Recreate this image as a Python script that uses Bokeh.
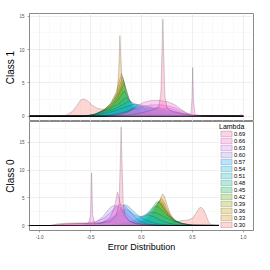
import math
from bokeh.plotting import figure
from bokeh.layouts import column
from bokeh.models import Range1d, FixedTicker, PrintfTickFormatter, Legend, LegendItem
from bokeh.embed import file_html
from bokeh.resources import INLINE

# ---------------- data ----------------
lambdas = ["0.30", "0.33", "0.36", "0.39", "0.42", "0.45", "0.48",
           "0.51", "0.54", "0.57", "0.60", "0.63", "0.66", "0.69"]
panel_labels = ["Class 1", "Class 0"]
x_ticks = [-1.0, -0.5, 0.0, 0.5, 1.0]
y_ticks = [0, 5, 10, 15]

# Class 1 densities (x, density)
c1_030 = [(-1.1,0),(-0.8,0),(-0.74,0.15),(-0.68,0.7),(-0.63,1.7),(-0.6,2.4),(-0.57,2.6),(-0.53,2.3),(-0.48,1.6),(-0.43,1.15),(-0.36,1.0),(-0.28,0.95),(-0.2,0.75),(-0.12,0.5),(-0.04,0.3),(0.06,0.15),(0.2,0.1),(0.4,0.05),(0.6,0.0),(1.0,0)]
c1_033 = [(-1.1,0),(-0.55,0),(-0.42,0.2),(-0.33,0.8),(-0.27,1.8),(-0.24,3.5),(-0.225,6.5),(-0.212,12.1),(-0.2,8.0),(-0.19,4.5),(-0.17,2.4),(-0.14,1.2),(-0.1,0.5),(-0.04,0.2),(0.05,0.05),(0.3,0),(1.0,0)]
c1_036 = [(-1.1,0),(-0.55,0),(-0.44,0.3),(-0.36,1.0),(-0.3,2.0),(-0.25,3.6),(-0.215,5.4),(-0.195,6.4),(-0.18,5.6),(-0.16,3.6),(-0.13,1.9),(-0.09,0.9),(-0.03,0.4),(0.08,0.15),(0.3,0.02),(1.0,0)]
c1_039 = [(-1.1,0),(-0.55,0),(-0.45,0.3),(-0.37,0.9),(-0.3,1.9),(-0.24,3.5),(-0.2,5.2),(-0.185,5.9),(-0.17,5.2),(-0.15,3.4),(-0.12,1.8),(-0.08,0.9),(-0.02,0.4),(0.1,0.15),(0.3,0.03),(1.0,0)]
c1_042 = [(-1.1,0),(-0.55,0),(-0.46,0.3),(-0.38,0.9),(-0.3,1.8),(-0.23,3.4),(-0.19,4.8),(-0.178,5.4),(-0.16,4.6),(-0.13,2.8),(-0.1,1.6),(-0.06,0.9),(0.0,0.5),(0.1,0.2),(0.3,0.05),(1.0,0)]
c1_045 = [(-1.1,0),(-0.55,0),(-0.46,0.3),(-0.38,0.8),(-0.3,1.6),(-0.23,3.0),(-0.19,4.3),(-0.172,4.9),(-0.15,4.0),(-0.12,2.6),(-0.09,1.7),(-0.05,1.1),(0.02,0.6),(0.12,0.3),(0.3,0.08),(0.5,0),(1.0,0)]
c1_048 = [(-1.1,0),(-0.55,0),(-0.46,0.25),(-0.38,0.7),(-0.3,1.4),(-0.23,2.5),(-0.19,3.4),(-0.168,3.8),(-0.14,3.1),(-0.11,2.1),(-0.07,1.5),(0.0,1.0),(0.1,0.6),(0.2,0.35),(0.35,0.12),(0.5,0.02),(1.0,0)]
c1_051 = [(-1.1,0),(-0.6,0),(-0.48,0.2),(-0.4,0.6),(-0.3,1.2),(-0.22,1.9),(-0.17,2.6),(-0.15,2.8),(-0.12,2.4),(-0.08,1.8),(0.0,1.3),(0.1,0.95),(0.2,0.7),(0.3,0.45),(0.4,0.2),(0.5,0.05),(1.0,0)]
c1_054 = [(-1.1,0),(-0.6,0),(-0.48,0.15),(-0.38,0.5),(-0.28,1.0),(-0.2,1.6),(-0.14,2.1),(-0.11,2.2),(-0.07,1.9),(0.0,1.5),(0.1,1.15),(0.2,0.9),(0.3,0.6),(0.4,0.3),(0.5,0.08),(1.0,0)]
c1_057 = [(-1.1,0),(-0.6,0),(-0.46,0.15),(-0.36,0.4),(-0.26,0.8),(-0.17,1.3),(-0.1,1.7),(-0.06,1.8),(0.0,1.65),(0.1,1.35),(0.2,1.1),(0.3,0.8),(0.4,0.4),(0.48,0.12),(0.6,0.02),(1.0,0)]
c1_060 = [(-1.1,0),(-0.45,0),(-0.3,0.2),(-0.2,0.5),(-0.13,0.8),(-0.08,1.15),(-0.04,0.95),(0.0,1.3),(0.04,1.0),(0.08,1.35),(0.12,1.05),(0.16,1.4),(0.2,1.1),(0.25,1.3),(0.3,1.05),(0.35,0.8),(0.41,0.45),(0.48,0.15),(0.6,0.02),(1.0,0)]
c1_063 = [(-1.1,0),(-0.4,0),(-0.25,0.2),(-0.15,0.6),(-0.07,1.1),(0.02,1.5),(0.1,1.7),(0.2,1.7),(0.28,1.5),(0.35,1.15),(0.41,0.7),(0.47,0.3),(0.55,0.08),(0.65,0),(1.0,0)]
c1_066 = [(-1.1,0),(-0.35,0),(-0.2,0.2),(-0.12,0.7),(-0.05,1.5),(0.02,2.1),(0.1,2.35),(0.18,2.35),(0.26,2.15),(0.33,1.7),(0.39,1.0),(0.44,0.5),(0.485,0.3),(0.495,2.5),(0.503,7.3),(0.511,2.5),(0.525,0.25),(0.6,0.08),(0.96,0.03),(0.985,0.25),(1.0,0)]
c1_069 = [(-1.1,0),(-0.25,0),(-0.1,0.2),(0.0,0.5),(0.1,0.9),(0.17,1.3),(0.19,3.5),(0.202,10),(0.21,14.6),(0.218,9.5),(0.23,3.0),(0.25,1.2),(0.3,0.7),(0.4,0.35),(0.5,0.12),(0.6,0.02),(1.0,0)]

# Class 0 densities
c0_030 = [(-1.1,0),(-0.2,0),(0.0,0.05),(0.15,0.15),(0.25,0.3),(0.33,0.6),(0.39,0.9),(0.45,0.95),(0.5,1.3),(0.535,2.2),(0.565,3.1),(0.585,3.3),(0.61,2.9),(0.635,1.8),(0.66,0.6),(0.69,0.1),(0.75,0),(1.0,0)]
c0_033 = [(-1.1,0),(-0.2,0),(-0.05,0.15),(0.03,0.6),(0.09,1.4),(0.14,2.8),(0.18,4.6),(0.205,5.7),(0.225,5.3),(0.25,3.8),(0.28,2.2),(0.32,1.1),(0.38,0.4),(0.46,0.1),(0.6,0),(1.0,0)]
c0_036 = [(-1.1,0),(-0.2,0),(-0.05,0.2),(0.03,0.7),(0.09,1.6),(0.14,3.0),(0.175,4.4),(0.195,4.9),(0.22,4.3),(0.25,3.0),(0.29,1.7),(0.34,0.8),(0.41,0.25),(0.5,0.05),(1.0,0)]
c0_039 = [(-1.1,0),(-0.2,0),(-0.05,0.25),(0.03,0.8),(0.08,1.7),(0.13,3.1),(0.165,4.2),(0.185,4.5),(0.21,4.0),(0.24,2.9),(0.28,1.7),(0.33,0.8),(0.4,0.3),(0.5,0.06),(1.0,0)]
c0_042 = [(-1.1,0),(-0.2,0),(-0.05,0.3),(0.02,0.9),(0.07,1.8),(0.12,3.1),(0.155,4.0),(0.175,4.2),(0.2,3.8),(0.23,2.8),(0.27,1.8),(0.32,0.9),(0.4,0.3),(0.5,0.06),(1.0,0)]
c0_045 = [(-1.1,0),(-0.25,0),(-0.1,0.3),(0.0,1.0),(0.06,2.0),(0.11,3.3),(0.145,4.2),(0.16,4.4),(0.185,4.0),(0.22,3.0),(0.27,1.8),(0.33,0.9),(0.41,0.35),(0.5,0.08),(1.0,0)]
c0_048 = [(-1.1,0),(-0.3,0),(-0.12,0.35),(-0.03,1.0),(0.04,1.9),(0.1,3.0),(0.14,3.5),(0.17,3.3),(0.21,2.6),(0.26,1.7),(0.32,0.9),(0.4,0.35),(0.5,0.08),(1.0,0)]
c0_051 = [(-1.1,0),(-0.35,0),(-0.15,0.5),(-0.06,1.1),(0.0,1.6),(0.05,2.1),(0.1,2.4),(0.14,2.3),(0.19,1.9),(0.25,1.3),(0.32,0.7),(0.4,0.3),(0.5,0.08),(1.0,0)]
c0_054 = [(-1.1,0),(-0.6,0),(-0.45,0.2),(-0.33,0.8),(-0.25,1.8),(-0.19,2.8),(-0.16,3.0),(-0.12,2.6),(-0.07,1.9),(-0.02,1.6),(0.03,1.7),(0.07,1.9),(0.12,1.6),(0.18,1.0),(0.26,0.45),(0.35,0.15),(0.5,0.02),(1.0,0)]
c0_057 = [(-1.1,0),(-0.6,0),(-0.45,0.2),(-0.33,0.9),(-0.25,2.0),(-0.2,3.2),(-0.165,3.8),(-0.13,3.5),(-0.08,2.6),(-0.03,1.8),(0.02,1.2),(0.08,0.7),(0.15,0.35),(0.25,0.1),(0.4,0),(1.0,0)]
c0_060 = [(-1.1,0),(-0.7,0),(-0.55,0.15),(-0.45,0.6),(-0.38,1.6),(-0.33,2.8),(-0.29,3.5),(-0.25,3.6),(-0.21,3.2),(-0.16,2.3),(-0.1,1.2),(-0.04,0.5),(0.05,0.15),(0.2,0.02),(1.0,0)]
c0_063 = [(-1.1,0),(-0.9,0),(-0.8,0.2),(-0.65,0.35),(-0.55,0.45),(-0.45,0.7),(-0.37,1.3),(-0.3,2.4),(-0.25,3.4),(-0.21,3.8),(-0.17,3.6),(-0.12,2.7),(-0.07,1.6),(-0.02,0.8),(0.05,0.3),(0.15,0.08),(0.3,0),(1.0,0)]
c0_066 = [(-1.1,0),(-0.85,0),(-0.75,0.25),(-0.6,0.35),(-0.52,0.4),(-0.5,2.0),(-0.49,9.5),(-0.48,2.0),(-0.46,0.4),(-0.38,0.6),(-0.31,1.4),(-0.27,3.0),(-0.25,4.8),(-0.235,6.0),(-0.22,5.0),(-0.2,3.2),(-0.17,1.8),(-0.12,0.8),(-0.05,0.3),(0.05,0.08),(0.2,0),(1.0,0)]
c0_069 = [(-1.1,0),(-0.9,0),(-0.82,0.3),(-0.7,0.45),(-0.6,0.45),(-0.52,0.35),(-0.4,0.4),(-0.3,0.8),(-0.25,1.8),(-0.22,4.0),(-0.208,12.0),(-0.2,17.8),(-0.192,12.0),(-0.18,4.0),(-0.16,1.8),(-0.12,0.8),(-0.05,0.3),(0.05,0.1),(0.2,0),(1.0,0)]

class1 = [c1_030, c1_033, c1_036, c1_039, c1_042, c1_045, c1_048,
          c1_051, c1_054, c1_057, c1_060, c1_063, c1_066, c1_069]
class0 = [c0_030, c0_033, c0_036, c0_039, c0_042, c0_045, c0_048,
          c0_051, c0_054, c0_057, c0_060, c0_063, c0_066, c0_069]


# ---------------- colours (ggplot hue palette) ----------------
def hcl_hex(h, c=100.0, l=65.0):
    Xn, Yn, Zn = 95.047, 100.0, 108.883
    U = c * math.cos(math.radians(h))
    V = c * math.sin(math.radians(h))
    Y = Yn * ((l + 16) / 116) ** 3 if l > 8 else Yn * l / 903.3
    den = Xn + 15 * Yn + 3 * Zn
    un, vn = 4 * Xn / den, 9 * Yn / den
    u = U / (13 * l) + un
    v = V / (13 * l) + vn
    X = 9.0 * Y * u / (4 * v)
    Z = -X / 3 - 5 * Y + 3 * Y / v
    X, Y, Z = X / 100, Y / 100, Z / 100
    r = 3.240479 * X - 1.537150 * Y - 0.498535 * Z
    g = -0.969256 * X + 1.875992 * Y + 0.041556 * Z
    b = 0.055648 * X - 0.204043 * Y + 1.057311 * Z

    def gam(t):
        t = 12.92 * t if t <= 0.0031308 else 1.055 * t ** (1 / 2.4) - 0.055
        return int(round(max(0.0, min(1.0, t)) * 255))
    return "#%02x%02x%02x" % (gam(r), gam(g), gam(b))


n = len(lambdas)
colors = [hcl_hex(15 + 360.0 * i / n) for i in range(n)]

FONT = "Liberation Sans"
x_range = Range1d(-1.1, 1.1)


def style(p, ylabel):
    p.background_fill_color = "white"
    p.border_fill_color = "white"
    p.outline_line_color = "#8a8a8a"
    p.outline_line_width = 1
    p.yaxis.ticker = FixedTicker(ticks=y_ticks, minor_ticks=[2.5, 7.5, 12.5, 17.5])
    p.xaxis.ticker = FixedTicker(ticks=x_ticks, minor_ticks=[-0.75, -0.25, 0.25, 0.75])
    p.xaxis.formatter = PrintfTickFormatter(format="%.1f")
    for ax in p.xaxis + p.yaxis:
        ax.axis_line_color = None
        ax.major_tick_line_color = "#555555"
        ax.major_tick_line_width = 0.5
        ax.major_tick_out = 2
        ax.major_tick_in = 0
        ax.minor_tick_line_color = None
        ax.major_label_text_font = FONT
        ax.major_label_text_font_size = "4.5px"
        ax.major_label_text_color = "#4d4d4d"
        ax.major_label_standoff = 1
        ax.axis_label_text_font = FONT
        ax.axis_label_text_font_style = "normal"
        ax.axis_label_text_color = "black"
    p.yaxis.axis_label = ylabel
    p.yaxis.axis_label_text_font_size = "10px"
    p.yaxis.axis_label_standoff = 0
    for g in (p.xgrid, p.ygrid):
        g.grid_line_color = "#e6e6e6"
        g.grid_line_width = 0.6
        g.minor_grid_line_color = "#f2f2f2"
        g.minor_grid_line_width = 0.5


def draw(p, series):
    rs = []
    for pts, col in zip(series, colors):
        xs = [a for a, b in pts]
        ys = [b for a, b in pts]
        r = p.patch(xs, ys, fill_color=col, fill_alpha=0.3,
                    line_color="black", line_alpha=0.35, line_width=0.5)
        rs.append(r)
    return rs


p1 = figure(width=254, height=121, x_range=x_range, y_range=Range1d(-0.8, 15.4),
            output_backend="svg", toolbar_location=None, x_axis_location=None,
            min_border_left=29, min_border_right=1, min_border_top=13, min_border_bottom=0)
style(p1, panel_labels[0])
draw(p1, class1)

p2 = figure(width=254, height=133, x_range=x_range, y_range=Range1d(-0.9, 18.75),
            output_backend="svg", toolbar_location=None,
            min_border_left=29, min_border_right=1, min_border_top=0, min_border_bottom=18)
style(p2, panel_labels[1])
p2.xaxis.major_label_standoff = 0
p2.xaxis.axis_label = "Error Distribution"
p2.xaxis.axis_label_text_font_size = "9px"
p2.xaxis.axis_label_standoff = 0
rs2 = draw(p2, class0)

items = [LegendItem(label=lab, renderers=[r]) for lab, r in zip(lambdas, rs2)][::-1]
legend = Legend(items=items, location="top_right", title="Lambda",
                title_text_font=FONT, title_text_font_size="7px",
                title_text_font_style="normal", title_text_color="black",
                title_standoff=0,
                label_text_font=FONT, label_text_font_size="5.8px",
                label_text_color="black",
                label_height=7, label_width=17, label_standoff=1,
                glyph_height=7, glyph_width=14,
                spacing=0, padding=1, margin=2,
                background_fill_color="white", background_fill_alpha=1.0,
                border_line_color=None)
p2.add_layout(legend)

layout = column(p1, p2)
open("out.html", "w").write(file_html(layout, INLINE))
